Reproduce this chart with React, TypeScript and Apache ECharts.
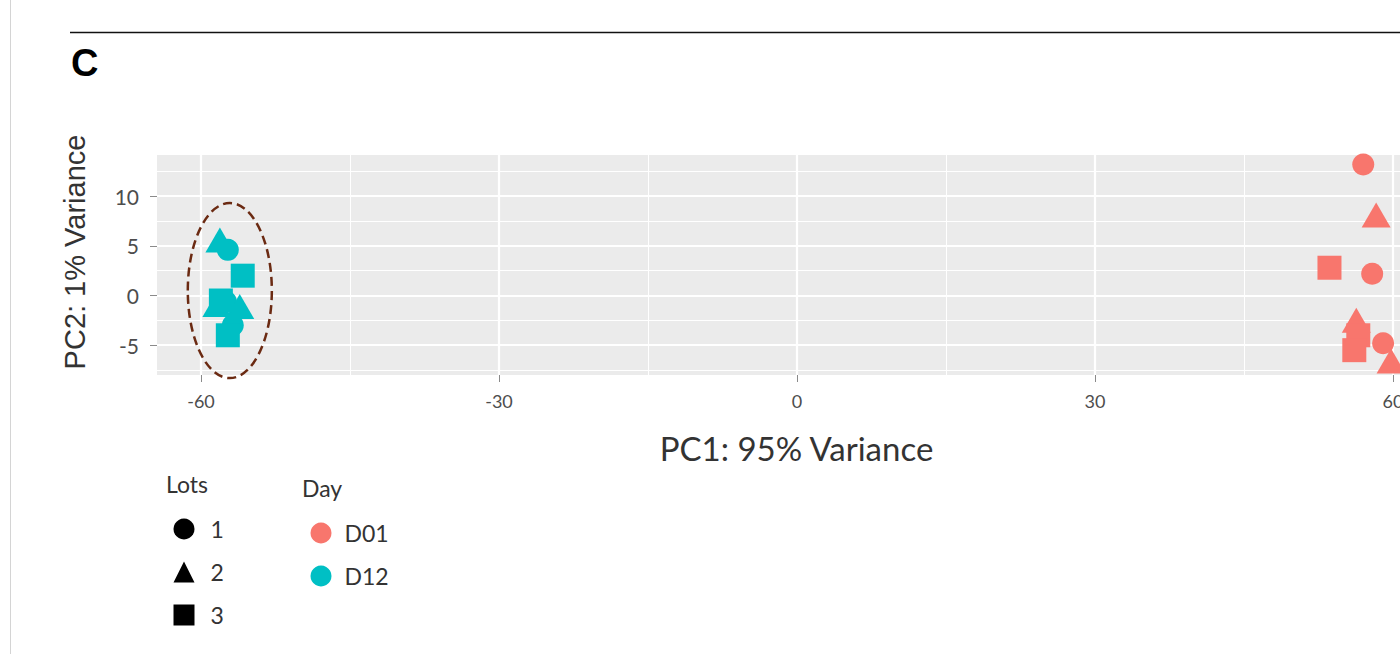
import React, { useEffect, useRef } from "react";
import * as echarts from "echarts";

// ---- data (PC1, PC2) ----
const d01Lot1: number[][] = [[57.0, 13.2], [57.9, 2.2], [59.0, -4.8]];
const d01Lot2: number[][] = [[58.3, 8.1], [56.3, -2.5], [59.8, -6.6]];
const d01Lot3: number[][] = [[53.6, 2.8], [56.5, -4.0], [56.1, -5.5]];
const d12Lot1: number[][] = [[-57.3, 4.6], [-57.5, -0.6], [-56.8, -3.0]];
const d12Lot2: number[][] = [[-58.1, 5.6], [-58.4, -0.9], [-56.1, -1.1]];
const d12Lot3: number[][] = [[-55.8, 2.0], [-58.0, -0.5], [-57.3, -4.0]];

const xMajorTicks = [-60, -30, 0, 30, 60];
const xMinorTicks = [-45, -15, 15, 45];
const yMajorTicks = [-5, 0, 5, 10];
const yMinorTicks = [-7.5, -2.5, 2.5, 7.5, 12.5];
const xRange = [-64.43, 60.7];
const yRange = [-8.0, 14.15];

const lotNames = ["1", "2", "3"];
const lotSymbols = ["circle", "triangle", "rect"];
const dayNames = ["D01", "D12"];
const dayColors = ["#F8766D", "#00BFC4"];

// annotation ellipse: center x, center y, radius x, radius y (data units)
const ellipseSpec: number[][] = [[-57.1, 0.5, 4.23, 8.81]];

const symbolSizes: Record<string, number | number[]> = {
  circle: 22,
  triangle: [29, 25],
  rect: 24,
};

export default function App() {
  const ref = useRef<HTMLDivElement>(null);
  useEffect(() => {
    if (!ref.current) return;
    const chart = echarts.init(ref.current, undefined, { renderer: "svg" });
    const font = "Lato";
    const dataSets = [
      [d01Lot1, d01Lot2, d01Lot3],
      [d12Lot1, d12Lot2, d12Lot3],
    ];
    const pointSeries: any[] = [];
    dayNames.forEach((day, di) => {
      lotNames.forEach((lot, li) => {
        pointSeries.push({
          type: "scatter",
          name: day + "-" + lot,
          xAxisIndex: 0,
          yAxisIndex: 0,
          data: dataSets[di][li],
          symbol: lotSymbols[li],
          symbolSize: symbolSizes[lotSymbols[li]],
          itemStyle: { color: dayColors[di], opacity: 1 },
          z: 3,
        });
      });
    });
    const legendSeries: any[] = [
      ...lotNames.map((n, i) => ({
        type: "scatter",
        name: n,
        data: [],
        symbol: lotSymbols[i],
        itemStyle: { color: "#000000", opacity: 1 },
      })),
      ...dayNames.map((n, i) => ({
        type: "scatter",
        name: n,
        data: [],
        symbol: "circle",
        itemStyle: { color: dayColors[i], opacity: 1 },
      })),
    ];

    const option: any = {
      animation: false,
      backgroundColor: "#ffffff",
      grid: {
        left: 157,
        right: 0,
        top: 155,
        bottom: 279,
        show: true,
        backgroundColor: "#EBEBEB",
        borderWidth: 0,
        outerBoundsMode: "none",
        containLabel: false,
      },
      xAxis: [
        {
          type: "value",
          min: xRange[0],
          max: xRange[1],
          name: "PC1: 95% Variance",
          nameLocation: "middle",
          nameGap: 56,
          nameTextStyle: {
            fontFamily: font,
            fontSize: 33,
            color: "#333333",
            padding: [0, 0, 0, 36],
          },
          axisLine: { show: false, onZero: false },
          axisTick: {
            show: true,
            length: 7,
            customValues: xMajorTicks,
            lineStyle: { color: "#8a8a8a", width: 1 },
          },
          axisLabel: {
            customValues: xMajorTicks,
            margin: 17,
            fontFamily: font,
            fontSize: 18,
            color: "#4d4d4d",
          },
          splitLine: { show: true, lineStyle: { color: "#ffffff", width: 2.2 } },
          z: 2,
        },
        {
          type: "value",
          min: xRange[0],
          max: xRange[1],
          axisLine: { show: false, onZero: false },
          axisTick: { show: false, customValues: xMinorTicks },
          axisLabel: { show: false, customValues: xMinorTicks },
          splitLine: { show: true, lineStyle: { color: "#ffffff", width: 1.1 } },
          z: 1,
        },
      ],
      yAxis: [
        {
          type: "value",
          min: yRange[0],
          max: yRange[1],
          name: "PC2: 1% Variance",
          nameLocation: "middle",
          nameGap: 68,
          nameTextStyle: {
            fontFamily: "Liberation Sans",
            fontSize: 29,
            color: "#333333",
            padding: [0, 0, 0, 26],
          },
          axisLine: { show: false, onZero: false },
          axisTick: {
            show: true,
            length: 7,
            customValues: yMajorTicks,
            lineStyle: { color: "#8a8a8a", width: 1 },
          },
          axisLabel: {
            customValues: yMajorTicks,
            margin: 18,
            fontFamily: font,
            fontSize: 21,
            color: "#4d4d4d",
          },
          splitLine: { show: true, lineStyle: { color: "#ffffff", width: 2.2 } },
          z: 2,
        },
        {
          type: "value",
          min: yRange[0],
          max: yRange[1],
          axisLine: { show: false, onZero: false },
          axisTick: { show: false, customValues: yMinorTicks },
          axisLabel: { show: false, customValues: yMinorTicks },
          splitLine: { show: true, lineStyle: { color: "#ffffff", width: 1.1 } },
          z: 1,
        },
      ],
      legend: [
        {
          data: lotNames,
          orient: "vertical",
          left: 168.5,
          top: 512.5,
          itemWidth: 21,
          itemHeight: 21,
          itemGap: 20,
          selectedMode: false,
          textStyle: {
            fontFamily: font,
            fontSize: 23,
            color: "#333333",
            lineHeight: 21,
            padding: [0, 0, 0, 11],
          },
        },
        {
          data: dayNames,
          orient: "vertical",
          left: 305.5,
          top: 516.5,
          itemWidth: 21,
          itemHeight: 21,
          itemGap: 20,
          selectedMode: false,
          textStyle: {
            fontFamily: font,
            fontSize: 23,
            color: "#333333",
            lineHeight: 21,
            padding: [0, 0, 0, 8],
          },
        },
      ],
      graphic: [
        {
          type: "line",
          shape: { x1: 10.5, y1: 0, x2: 10.5, y2: 654 },
          style: { stroke: "#d4d4d4", lineWidth: 1 },
          silent: true,
        },
        {
          type: "line",
          shape: { x1: 70, y1: 32.5, x2: 1400, y2: 32.5 },
          style: { stroke: "#111111", lineWidth: 1.5 },
          silent: true,
        },
        {
          type: "text",
          x: 71,
          y: 63,
          style: {
            text: "C",
            fontFamily: "Liberation Sans",
            fontWeight: "bold",
            fontSize: 38,
            fill: "#000000",
            verticalAlign: "middle",
          },
        },
        {
          type: "text",
          x: 166,
          y: 484,
          style: {
            text: "Lots",
            fontFamily: font,
            fontSize: 23,
            fill: "#333333",
            verticalAlign: "middle",
          },
        },
        {
          type: "text",
          x: 302,
          y: 488,
          style: {
            text: "Day",
            fontFamily: font,
            fontSize: 23,
            fill: "#333333",
            verticalAlign: "middle",
          },
        },
      ],
      series: [
        ...pointSeries,
        ...legendSeries,
        {
          type: "custom",
          name: "cluster",
          coordinateSystem: "cartesian2d",
          xAxisIndex: 0,
          yAxisIndex: 0,
          data: ellipseSpec,
          silent: true,
          z: 5,
          renderItem: (params: any, api: any) => {
            const cx = api.value(0);
            const cy = api.value(1);
            const c = api.coord([cx, cy]);
            const px = api.coord([cx + api.value(2), cy]);
            const py = api.coord([cx, cy + api.value(3)]);
            return {
              type: "ellipse",
              shape: {
                cx: c[0],
                cy: c[1],
                rx: Math.abs(px[0] - c[0]),
                ry: Math.abs(c[1] - py[1]),
              },
              style: {
                fill: "none",
                stroke: "#6b2a12",
                lineWidth: 2.5,
                lineDash: [9, 5],
              },
            };
          },
        },
      ],
    };
    chart.setOption(option);
    return () => chart.dispose();
  }, []);
  return (
    <div
      ref={ref}
      style={{ position: "absolute", left: 0, top: 0, width: 1400, height: 654 }}
    />
  );
}
